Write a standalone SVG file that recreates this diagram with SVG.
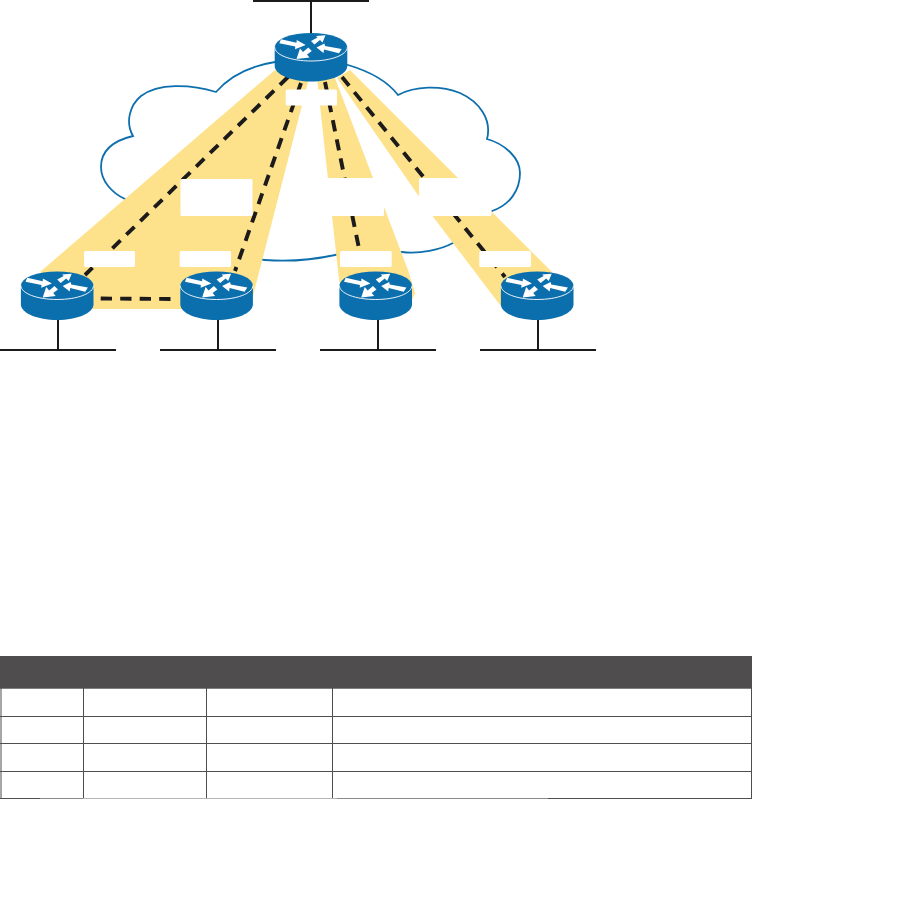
<svg xmlns="http://www.w3.org/2000/svg" width="918" height="923" viewBox="0 0 918 923">
<style>
.cloud{fill:none;stroke:#0d6fad;stroke-width:1.8}
.wedge{fill:#fde28b}
.dash{fill:none;stroke:#1c1a1b;stroke-width:3.900;stroke-dasharray:11.3 8.2}
.wire{fill:none;stroke:#1c1a1b;stroke-width:2}
.mask{fill:#fff}
.tl{fill:none;stroke:#4f4d4e;stroke-width:1}
</style>
<defs>
<g id="router">
<path d="M-36.300,0V19C-36.300,27.500-20,34.500 0,34.500S36.300,27.500 36.300,19V0Z" fill="#0c6fad"/>
<ellipse cx="0" cy="0" rx="36.300" ry="14" fill="#0c6fad"/>
<path d="M-36.300,0C-36.300,8-20,14 0,14S36.300,8 36.300,0" fill="none" stroke="#fff" stroke-width="0.9"/>
<g fill="#fff">
<polygon points="-30,-7.700 -14.500,-4.300 -14.300,-7 -5.300,-2 -16,2.300 -15.700,-0.500 -31.700,-3.700"/>
<polygon points="0,-6 3.500,-2.500 9,-7 11.500,-4.500 14.500,-11.700 5,-11 6.500,-9.500"/>
<polygon points="30.700,2 14,-1 13.500,-3.500 5.500,0.500 12.500,6 13,2.500 28,6.300"/>
<polygon points="-2.700,0.500 0.800,4 -4,7.500 -1.500,10.500 -14.500,12 -11,1.500 -8,5"/>
</g>
</g>
</defs>
<rect width="918" height="923" fill="#fff"/>
<g id="cloud">
<path class="cloud" d="M275,62C250,66 229,77 216,92C190,84 158,83 141,96C130,105 125,122 133,136C112,141 101,152 101,167C101,181 112,193 125,199C160,240 210,255 265,260C290,262 312,260 335,255C360,250 380,251 402,252C420,254 440,250 453,243C470,232 482,222 492,211C510,205 520,190 520,173C520,158 505,144 487,139C492,120 480,102 460,93C440,85 415,86 398,95C385,78 365,70 348,65C330,60 290,60 275,62Z"/>
</g>
<g id="pvc-bands">
<polygon class="wedge" points="275,70 309,78 254,292 250,309 93,309 40,272"/>
<polygon class="wedge" points="317,78 335,78 373,178 408,270 415,293 412,300 345,300 339,280"/>
<polygon class="wedge" points="337,78 350,70 552,272 545,300 510,310 500,305 432.500,216"/>
</g>
<g id="connectors">
<path class="dash" d="M288,77L85,275"/>
<path class="dash" d="M301,83L235,271"/>
<path class="dash" d="M325,82L363,268"/>
<path class="dash" d="M342,77L505,277"/>
<path class="dash" d="M100.700,298.500L173,299"/>
<path class="wire" d="M253,1H369M311,1V33"/>
<path class="wire" d="M0,350H116M58,320V350"/>
<path class="wire" d="M160,350H276M218,320V350"/>
<path class="wire" d="M320,350H436M378,320V350"/>
<path class="wire" d="M480,350H596M538,320V350"/>
</g>
<g id="label-plates">
<rect class="mask" x="285.700" y="89.500" width="51.300" height="16" rx="1.500"/>
<rect class="mask" x="180.500" y="179" width="72" height="37" rx="1.500"/>
<rect class="mask" x="312" y="178" width="72" height="38" rx="1.500"/>
<rect class="mask" x="419" y="178" width="72.500" height="38" rx="1.500"/>
<rect class="mask" x="84" y="251" width="51" height="16" rx="1.500"/>
<rect class="mask" x="179.700" y="251" width="51.300" height="16" rx="1.500"/>
<rect class="mask" x="340" y="251" width="51.700" height="16" rx="1.500"/>
<rect class="mask" x="479.300" y="251" width="51.700" height="16" rx="1.500"/>
</g>
<g id="router-top"><use href="#router" x="311" y="47"/></g>
<g id="router-a"><use href="#router" x="57.200" y="285.500"/></g>
<g id="router-b"><use href="#router" x="216.600" y="285.500"/></g>
<g id="router-c"><use href="#router" x="375.700" y="285.500"/></g>
<g id="router-d"><use href="#router" x="537.200" y="285.500"/></g>
<g id="table">
<rect x="0" y="656" width="752" height="32" fill="#4f4d4e"/>
<path d="M0,688.500H752" stroke="#808080" stroke-width="1"/>
<path class="tl" d="M1,688V798.500M83.500,688V798.500M206.500,688V798.500M332.500,688V798.500M751.500,688V798.500"/>
<path class="tl" d="M0,716.500H752M0,743.500H752M0,771.500H752"/>
<path d="M0,798.500H40" stroke="#4f4d4e" stroke-width="1"/>
<path d="M40,798.500H83" stroke="#8a8a8a" stroke-width="1"/>
<path d="M83,798.500H337" stroke="#b5b5b5" stroke-width="1"/>
<path d="M337,798.500H548" stroke="#8a8a8a" stroke-width="1"/>
<path d="M548,798.500H752" stroke="#4f4d4e" stroke-width="1"/>
</g>
</svg>
